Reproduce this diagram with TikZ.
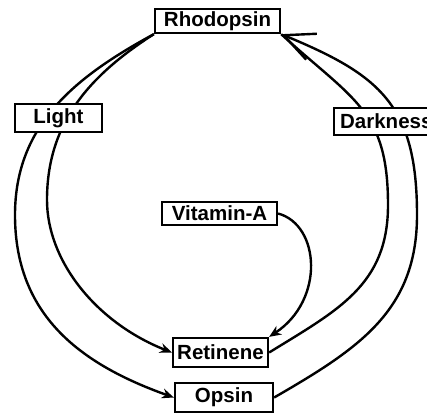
\documentclass[tikz,border=0pt]{standalone}
\usepackage{fontspec}
\setmainfont{Liberation Sans}
\usetikzlibrary{arrows.meta,backgrounds}
\begin{document}
\begin{tikzpicture}[x=1pt,y=-1pt,
  box/.style={draw, line width=2.3pt, fill=white, inner sep=0pt,
    font=\bfseries\fontsize{20.5}{22}\selectfont},
  conn/.style={line width=2.4pt},
  arr/.style={conn, -{Stealth[length=12pt,width=10pt]}},
  barb/.style={conn, -{Straight Barb[length=30pt,width=28pt,line width=2.4pt]}}]
\useasboundingbox (0,0) rectangle (427,415);
\clip (0,0) rectangle (427,415);
\node[box, minimum width=125pt, minimum height=24pt] (rho) at (217.5,21) {Rhodopsin};
\node[box, minimum width=87pt, minimum height=28pt] (light) at (58.5,118) {Light};
\node[box, anchor=west, inner xsep=6pt, minimum height=27pt] (dark) at (333,121.5) {Darkness};
\node[box, minimum width=115pt, minimum height=23pt] (vit) at (219.5,213.5) {Vitamin-A};
\node[box, minimum width=95pt, minimum height=29pt] (ret) at (220.5,352.5) {Retinene};
\node[box, minimum width=98pt, minimum height=29pt] (ops) at (224,397.5) {Opsin};
\coordinate (lo) at (15,215);
\coordinate (li) at (47,200);
\coordinate (ro) at (417,215);
\coordinate (ri) at (388,205);
\begin{pgfonlayer}{background}
\draw[arr] (rho.south west) .. controls (75,77) and (15,125) .. (lo)
  .. controls (15,315) and (80,364) .. (ops.west);
\draw[arr] (rho.south west) .. controls (87,77) and (47,125) .. (li)
  .. controls (47,260) and (95,322) .. (ret.west);
\draw[barb] (ops.east) .. controls (360,348) and (417,310) .. (ro)
  .. controls (417,105) and (380,75) .. (rho.south east);
\draw[conn] (ret.east) .. controls (338,310) and (388,285) .. (ri)
  .. controls (388,110) and (353,100) .. (rho.south east);
\draw[arr] (vit.east) .. controls (320,225) and (325,300) .. (ret.north east);
\end{pgfonlayer}
\end{tikzpicture}
\end{document}
